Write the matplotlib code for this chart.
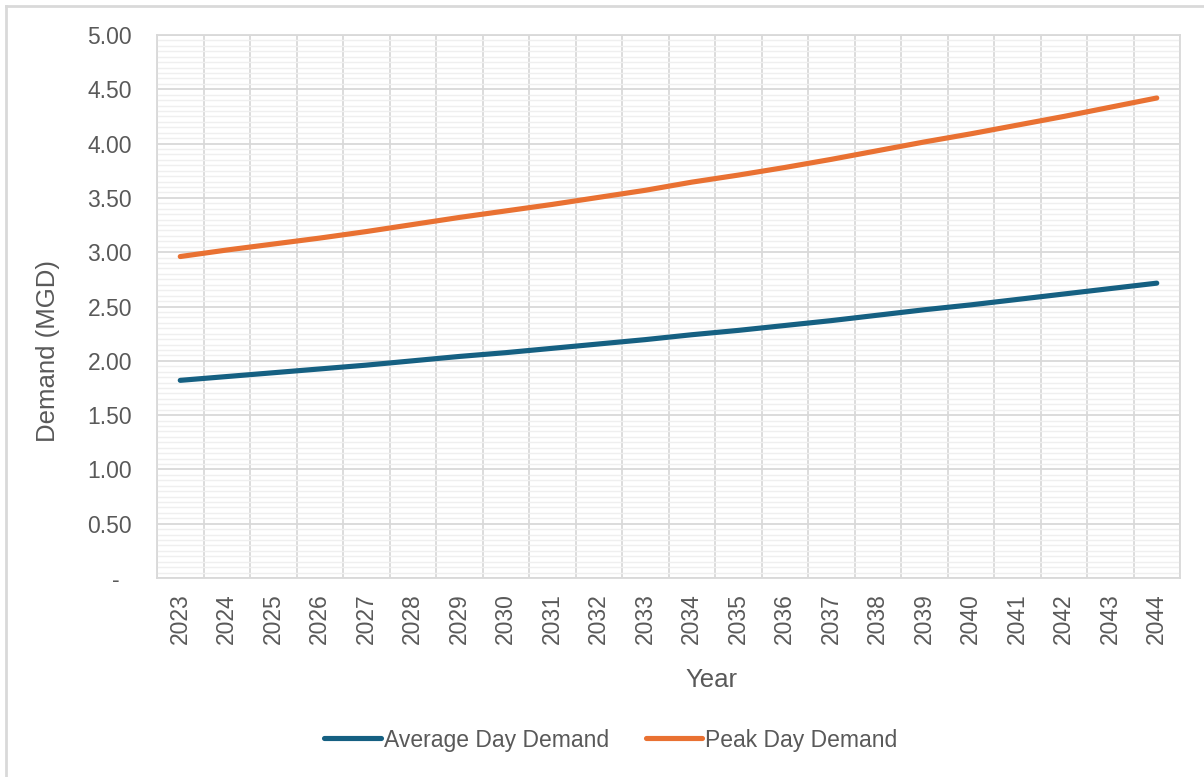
import matplotlib
matplotlib.use("Agg")
import matplotlib.pyplot as plt
from matplotlib.lines import Line2D
from matplotlib.ticker import MultipleLocator, FixedLocator

# Demand projections (MGD) by year
years = [2023, 2024, 2025, 2026, 2027, 2028, 2029, 2030, 2031, 2032, 2033,
         2034, 2035, 2036, 2037, 2038, 2039, 2040, 2041, 2042, 2043, 2044]
average_day = [1.82, 1.855, 1.89, 1.925, 1.96, 2.00, 2.04, 2.075, 2.115, 2.155, 2.195,
               2.24, 2.28, 2.325, 2.37, 2.42, 2.47, 2.515, 2.565, 2.615, 2.665, 2.715]
peak_day = [2.96, 3.02, 3.075, 3.13, 3.19, 3.255, 3.32, 3.38, 3.44, 3.505, 3.57,
            3.645, 3.71, 3.78, 3.855, 3.935, 4.015, 4.09, 4.17, 4.25, 4.335, 4.42]
y_ticks = [0, 0.5, 1.0, 1.5, 2.0, 2.5, 3.0, 3.5, 4.0, 4.5, 5.0]

text_color = '#595959'
grid_major = '#d9d9d9'
grid_minor = '#efefef'
blue = '#156082'
orange = '#e97132'
plt.rcParams['font.family'] = ['Liberation Sans', 'DejaVu Sans']

W, H = 1204, 777
fig = plt.figure(figsize=(W / 100, H / 100), dpi=100)
ax = fig.add_axes([157 / W, 1 - 578 / H, (1180 - 157) / W, (578 - 35) / H])

x = list(range(len(years)))
ax.plot(x, average_day, color=blue, lw=3.7, solid_capstyle='round', label='Average Day Demand', zorder=3)
ax.plot(x, peak_day, color=orange, lw=3.7, solid_capstyle='round', label='Peak Day Demand', zorder=3)

ax.set_xlim(-0.5, len(years) - 0.5)
ax.set_ylim(0, 5)

# y axis: major every 0.50, minor every 0.05
ax.yaxis.set_major_locator(FixedLocator(y_ticks))
ax.yaxis.set_minor_locator(MultipleLocator(0.05))
ax.set_yticklabels(['-  ' if v == 0 else f'{v:.2f}' for v in y_ticks])
ax.grid(which='minor', axis='y', color=grid_minor, lw=1.0, zorder=0)
ax.grid(which='major', axis='y', color=grid_major, lw=1.3, zorder=1)

# category axis: labels at centers, gridlines on boundaries
ax.set_xticks(x)
ax.set_xticklabels([str(y) for y in years], rotation=90)
ax.xaxis.set_minor_locator(FixedLocator([i - 0.5 for i in range(len(years) + 1)]))
ax.grid(which='minor', axis='x', color=grid_major, lw=1.3, zorder=1)

ax.tick_params(which='both', length=0, colors=text_color, labelsize=16.5)
ax.tick_params(axis='y', pad=18)
ax.tick_params(axis='x', pad=11)
for s in ax.spines.values():
    s.set_color(grid_major)
    s.set_linewidth(1.3)

fig.text(711 / W, 1 - 680 / H, 'Year', ha='center', va='center', color=text_color, fontsize=18.5)
fig.text(48 / W, 1 - 351 / H, 'Demand (MGD)', ha='center', va='center', rotation=90,
         color=text_color, fontsize=18.5)

fig.legend(loc='center', bbox_to_anchor=(611 / W, 1 - 740 / H), ncol=2, frameon=False,
           fontsize=16.5, labelcolor=text_color, handlelength=2.45, handletextpad=0.15,
           columnspacing=1.6)

# outer chart border
fig.add_artist(Line2D([6 / W, 6 / W], [0, 1 - 6 / H], color=grid_major, lw=2))
fig.add_artist(Line2D([6 / W, 1], [1 - 6 / H, 1 - 6 / H], color=grid_major, lw=2))

fig.savefig('out.png', dpi=100, facecolor='white')
